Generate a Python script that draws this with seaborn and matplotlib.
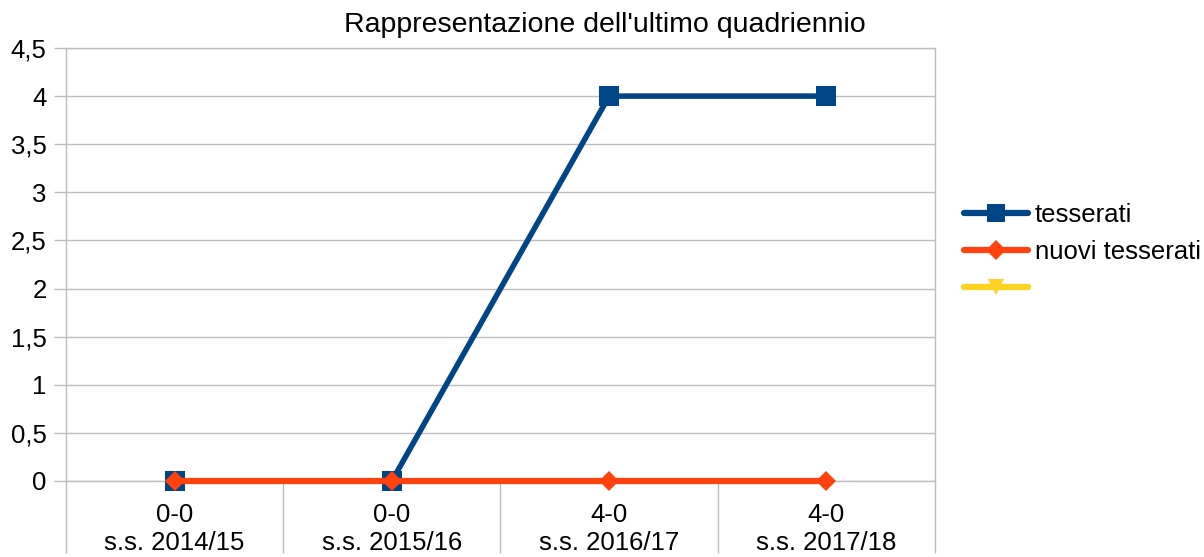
import numpy as np
import pandas as pd
import seaborn as sns
import matplotlib
matplotlib.use("Agg")
import matplotlib.pyplot as plt
from matplotlib.lines import Line2D

# Data
seasons = ["s.s. 2014/15", "s.s. 2015/16", "s.s. 2016/17", "s.s. 2017/18"]
scores = ["0-0", "0-0", "4-0", "4-0"]
tesserati = [0, 0, 4, 4]
nuovi_tesserati = [0, 0, 0, 0]
terza_serie = [np.nan, np.nan, np.nan, np.nan]
series_labels = ["tesserati", "nuovi tesserati", ""]
y_ticks = [0, 0.5, 1, 1.5, 2, 2.5, 3, 3.5, 4, 4.5]
y_tick_labels = ["0", "0,5", "1", "1,5", "2", "2,5", "3", "3,5", "4", "4,5"]
title = "Rappresentazione dell'ultimo quadriennio"

sns.set_theme(style="white")
plt.rcParams["font.family"] = ["Liberation Sans", "DejaVu Sans"]

BLUE = "#004586"
ORANGE = "#ff420e"
YELLOW = "#ffd320"
GRID = "#bdbdbd"
FS = 18.5

fig = plt.figure(figsize=(12.04, 5.57), dpi=100)
ax = fig.add_axes([66 / 1204, 1 - 481 / 557, 869 / 1204, 433 / 557])

pos = np.arange(len(seasons))
df = pd.DataFrame({"pos": pos, "tesserati": tesserati,
                   "nuovi": nuovi_tesserati, "terza": terza_serie})

sns.lineplot(data=df, x="pos", y="tesserati", ax=ax, color=BLUE, lw=4,
             marker="s", markersize=14, markeredgewidth=0, zorder=3,
             clip_on=False)
sns.lineplot(data=df, x="pos", y="nuovi", ax=ax, color=ORANGE, lw=4.5,
             marker="D", markersize=10.5, markeredgewidth=0, zorder=4,
             clip_on=False)
if df["terza"].notna().any():
    sns.lineplot(data=df, x="pos", y="terza", ax=ax, color=YELLOW, lw=4.5,
                 marker="v", markersize=12, markeredgewidth=0, zorder=2,
                 clip_on=False)

ax.set_xlim(-0.5, len(seasons) - 0.5)
ax.set_ylim(0, 4.5)
ax.set_xlabel("")
ax.set_ylabel("")

# Y axis with comma decimals
ax.set_yticks(y_ticks)
ax.set_yticklabels(y_tick_labels, fontsize=FS, color="black")
ax.yaxis.grid(True, color=GRID, lw=1.0)
ax.tick_params(axis="y", length=8.5, width=1.0, color=GRID, pad=5.5, left=True)

# X axis: category labels at centres, separators at boundaries
ax.set_xticks(pos)
ax.set_xticklabels([f"{s}\n{se}" for s, se in zip(scores, seasons)],
                   fontsize=FS, color="black", linespacing=1.2)
ax.set_xticks(np.arange(-0.5, len(seasons)), minor=True)
ax.tick_params(axis="x", which="major", length=0, pad=16)
ax.tick_params(axis="x", which="minor", length=52, width=1.0, color=GRID,
               bottom=True)

for side in ["left", "right", "top", "bottom"]:
    ax.spines[side].set_color(GRID)
    ax.spines[side].set_linewidth(1.0)
ax.spines["bottom"].set_zorder(1)

# Legend
handles = [
    Line2D([], [], color=BLUE, lw=4.5, marker="s", markersize=13, markeredgewidth=0),
    Line2D([], [], color=ORANGE, lw=4.5, marker="D", markersize=10, markeredgewidth=0),
    Line2D([], [], color=YELLOW, lw=4.5, marker="v", markersize=12, markeredgewidth=0),
]
fig.legend(handles, series_labels, loc="center left",
           bbox_to_anchor=(964 / 1204, 1 - 252 / 557), frameon=False,
           fontsize=FS, handlelength=2.5, handletextpad=0.25,
           labelspacing=0.5, numpoints=1, borderaxespad=0, borderpad=0,
           labelcolor="black")

fig.text(605 / 1204, 1 - 25 / 557, title, ha="center", va="center",
         fontsize=20.5, color="black")

fig.savefig("out.png", dpi=100)
